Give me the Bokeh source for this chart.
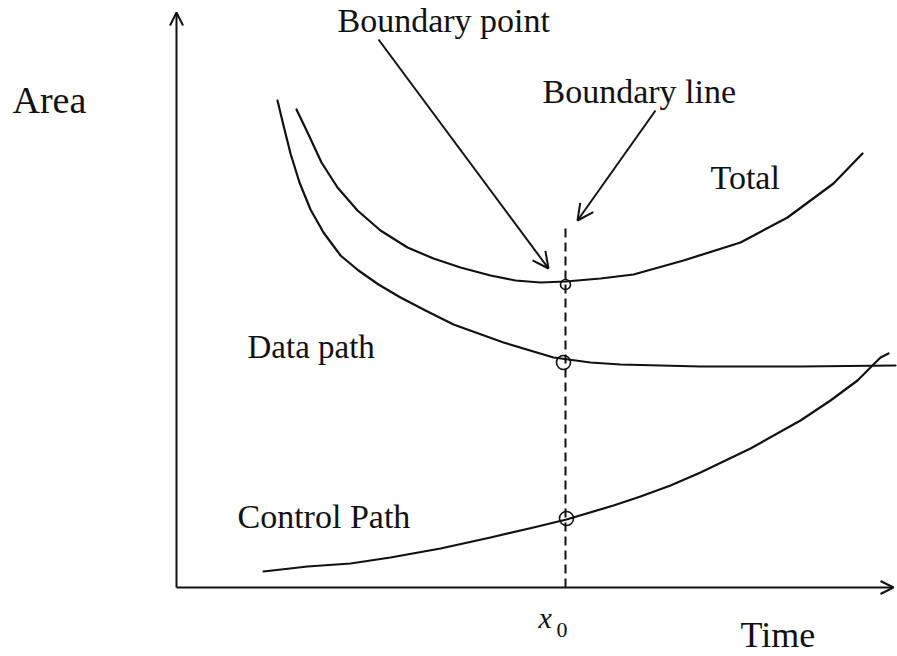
from bokeh.plotting import figure
from bokeh.models import Range1d, Arrow, OpenHead, Label
from bokeh.embed import file_html
from bokeh.resources import INLINE

# Schematic values (Time, Area) in arbitrary units, origin at the axes corner
total_time = [12.0, 13.2, 14.5, 16.1, 18.1, 20.4, 23.1, 25.7, 28.4, 31.4, 33.9, 36.4,
              38.9, 42.4, 45.7, 50.7, 56.4, 61.1, 65.7, 68.6]
total_area = [47.8, 45.3, 42.5, 40.0, 37.7, 35.7, 34.0, 32.9, 32.0, 31.2, 30.7, 30.5,
              30.6, 30.9, 31.3, 32.7, 34.5, 37.0, 40.4, 43.4]

data_time = [10.1, 10.7, 11.4, 12.3, 13.4, 14.7, 16.4, 18.2, 20.2, 22.4, 24.9, 27.7,
             32.7, 37.7, 41.4, 44.4, 52.4, 62.4, 71.9]
data_area = [48.7, 46.2, 43.4, 40.5, 37.8, 35.5, 33.2, 31.7, 30.3, 29.0, 27.7, 26.3,
             24.5, 23.0, 22.5, 22.3, 22.1, 22.1, 22.2]

control_time = [8.7, 13.1, 17.4, 21.4, 26.4, 31.4, 35.7, 39.0, 43.7, 46.4, 49.4, 52.4,
                57.4, 62.4, 65.4, 68.1, 69.4, 70.1, 70.4, 71.2]
control_area = [1.6, 2.1, 2.4, 3.0, 3.9, 5.0, 6.0, 6.8, 8.2, 9.1, 10.2, 11.5,
                13.9, 16.7, 18.7, 20.7, 22.0, 22.7, 23.0, 23.4]

x0 = 38.9
boundary_line_top = 36.4
mark_time = [38.9, 38.7, 39.0]
mark_area = [30.3, 22.5, 6.9]
mark_size = [10, 14, 14]

axis_time_end = 71.7
axis_area_end = 57.5

FONT = "Liberation Serif"
INK = "#111111"

p = figure(width=897, height=656, output_backend="svg", toolbar_location=None,
           x_range=Range1d(-17.6, 72.1), y_range=Range1d(-6.9, 58.7),
           min_border=0, outline_line_color=None, background_fill_color="white",
           border_fill_color="white")
p.axis.visible = False
p.grid.visible = False

# axes with arrow heads
p.add_layout(Arrow(end=OpenHead(size=13, line_width=2, line_color=INK),
                   x_start=0, y_start=0, x_end=0, y_end=axis_area_end,
                   line_width=2, line_color=INK))
p.add_layout(Arrow(end=OpenHead(size=13, line_width=2, line_color=INK),
                   x_start=0, y_start=0, x_end=axis_time_end, y_end=0,
                   line_width=2, line_color=INK))

# curves
for xs, ys in ((total_time, total_area), (data_time, data_area),
               (control_time, control_area)):
    p.line(xs, ys, line_width=2.2, line_color=INK, line_join="round", line_cap="round")

# boundary line
p.line([x0, x0], [0, boundary_line_top], line_width=2, line_color=INK, line_dash="9 5")

# boundary points
p.scatter(mark_time, mark_area, size=mark_size, marker="circle", fill_color=None,
          line_color=INK, line_width=1.6)

# pointer arrows
p.add_layout(Arrow(end=OpenHead(size=16, line_width=2, line_color=INK),
                   x_start=20.2, y_start=54.8, x_end=37.2, y_end=31.9,
                   line_width=2, line_color=INK))
p.add_layout(Arrow(end=OpenHead(size=16, line_width=2, line_color=INK),
                   x_start=47.9, y_start=47.7, x_end=40.1, y_end=36.7,
                   line_width=2, line_color=INK))

def lab(x, y, text, size, style="normal"):
    p.add_layout(Label(x=x, y=y, text=text, text_font=FONT, text_font_size=size,
                       text_font_style=style, text_color=INK,
                       text_baseline="alphabetic", text_align="left"))

lab(-16.4, 48.8, "Area", "38px")
lab(16.1, 56.7, "Boundary point", "34px")
lab(36.6, 49.6, "Boundary line", "34px")
lab(53.4, 41.0, "Total", "34px")
lab(7.1, 24.1, "Data path", "33px")
lab(6.1, 7.1, "Control Path", "34px")
lab(56.4, -4.7, "Time", "36px")
lab(36.2, -3.0, "x", "30px", "italic")
lab(38.0, -4.2, "0", "22px")

open("out.html", "w").write(file_html(p, INLINE))
